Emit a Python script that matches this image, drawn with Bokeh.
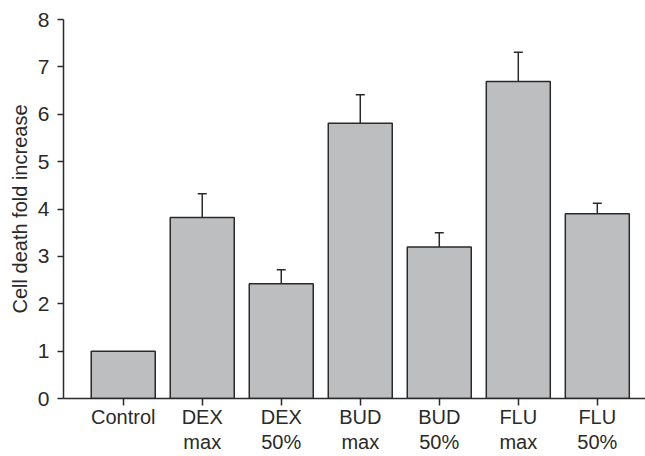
from bokeh.plotting import figure
from bokeh.models import ColumnDataSource, Range1d, FixedTicker, Whisker, TeeHead
from bokeh.embed import file_html
from bokeh.resources import INLINE

# Cell death (fold increase over control) per treatment, mean and upper SEM
labels = ["Control", "DEX\nmax", "DEX\n50%", "BUD\nmax", "BUD\n50%", "FLU\nmax", "FLU\n50%"]
means = [1.0, 3.82, 2.42, 5.81, 3.2, 6.69, 3.9]
errors = [0.0, 0.5, 0.3, 0.6, 0.3, 0.62, 0.22]

xs = list(range(len(labels)))
upper = [m + e for m, e in zip(means, errors)]
src = ColumnDataSource(dict(x=xs, top=means, upper=upper))
err_src = ColumnDataSource(dict(x=[x for x, e in zip(xs, errors) if e > 0],
                                lower=[m for m, e in zip(means, errors) if e > 0],
                                upper=[u for u, e in zip(upper, errors) if e > 0]))

INK = "#2a2a2a"
FONT = "Liberation Sans"

p = figure(width=645, height=456, output_backend="svg", toolbar_location=None,
           x_range=Range1d(-0.756, 6.61), y_range=Range1d(0, 8))
p.min_border_left = 63
p.min_border_right = 0
p.min_border_top = 19
p.min_border_bottom = 58
p.outline_line_color = None
p.grid.visible = False
p.background_fill_color = "white"
p.border_fill_color = "white"

p.vbar(x="x", top="top", bottom=0, width=0.81, source=src,
       fill_color="#bdbec0", line_color=INK, line_width=1.5)

whisk = Whisker(base="x", lower="lower", upper="upper", source=err_src,
                dimension="height", line_color=INK, line_width=1.5,
                upper_head=TeeHead(size=9, line_color=INK, line_width=1.5),
                lower_head=None)
p.add_layout(whisk)

# y axis
ya = p.yaxis[0]
ya.ticker = FixedTicker(ticks=list(range(0, 9)))
ya.minor_tick_line_color = None
ya.major_tick_in = 0
ya.major_tick_out = 6
ya.axis_line_color = INK
ya.axis_line_width = 1.5
ya.major_tick_line_color = INK
ya.major_tick_line_width = 1.5
ya.major_label_text_font = FONT
ya.major_label_text_font_size = "21px"
ya.major_label_text_color = INK
ya.major_label_standoff = 8
ya.axis_label = "Cell death fold increase"
ya.axis_label_text_font = FONT
ya.axis_label_text_font_size = "20px"
ya.axis_label_text_font_style = "normal"
ya.axis_label_text_color = INK
ya.axis_label_standoff = 4

# x axis with two-line category labels
xa = p.xaxis[0]
xa.ticker = FixedTicker(ticks=xs)
xa.major_label_overrides = {i: lab for i, lab in enumerate(labels)}
xa.minor_tick_line_color = None
xa.major_tick_in = 0
xa.major_tick_out = 7
xa.axis_line_color = INK
xa.axis_line_width = 1.5
xa.major_tick_line_color = INK
xa.major_tick_line_width = 1.5
xa.major_label_text_font = FONT
xa.major_label_text_font_size = "20px"
xa.major_label_text_color = INK
xa.major_label_standoff = 0
xa.major_label_text_line_height = 1.15

open("out.html", "w").write(file_html(p, INLINE))
